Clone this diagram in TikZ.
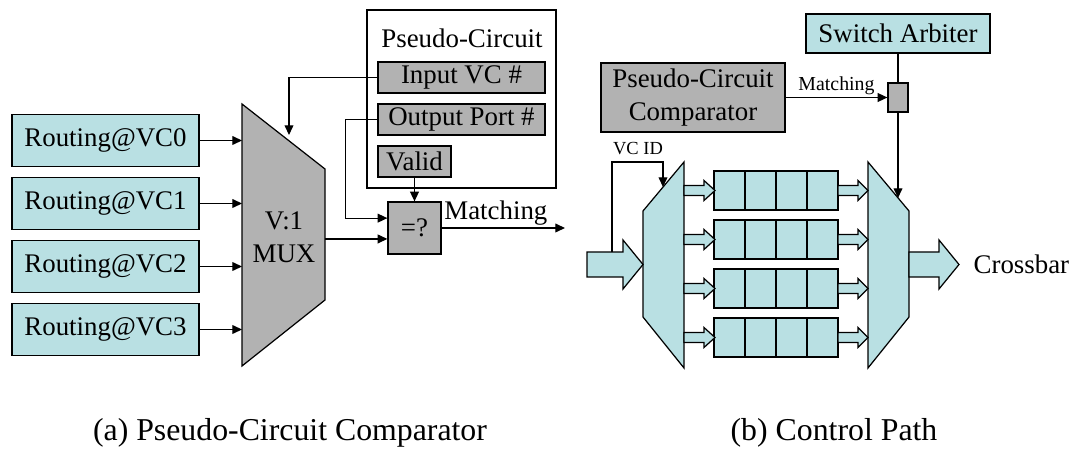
\documentclass[tikz,border=0pt]{standalone}
\usepackage{fontspec}
\setmainfont{Liberation Serif}
\usepackage{tikz}
\usetikzlibrary{arrows.meta,%
                shapes,positioning}

\definecolor{vcblue}{RGB}{185,224,227}
\definecolor{pcgray}{RGB}{178,178,178}

% fat arrow: from x, tip x, head start x, mid y, shaft half, head half
\newcommand{\fatarrow}[6]{%
  \draw[fill=vcblue] (#1,#4-#5) -- (#3,#4-#5) -- (#3,#4-#6) -- (#2,#4)
    -- (#3,#4+#6) -- (#3,#4+#5) -- (#1,#4+#5) -- cycle;}

\begin{document}
\begin{tikzpicture}[x=0.02cm,y=-0.02cm,line width=0.7pt,
  >={Triangle[length=5.5pt,width=5pt]},
  font=\fontsize{15.3}{18.7}\selectfont,
  blk/.style 2 args={draw,inner sep=0pt,minimum width=#1*0.02cm,minimum height=#2*0.02cm},
  cy/.style={fill=vcblue},
  gy/.style={fill=pcgray}]
\useasboundingbox (0,0) rectangle (1073,449);

%%% (a) comparator
\foreach \i in {0,...,3}
  \node[blk={187}{52},cy] (r\i) at (105.5,140.5+63*\i) {Routing@VC\i};

\draw[fill=pcgray] (242,104) coordinate (mtl) -- (325,169) coordinate (mtr)
  -- (325,300) -- (242,366) -- cycle;
\node[align=center] (mux) at (284,237) {V:1\\MUX};

\foreach \i in {0,...,3}
  \draw[->] (r\i.east) -- (r\i.east -| mtl);

\node[blk={189}{178},fill=white] (pcbox) at (461.5,99) {};
\node (pctitle) at (462,38) {Pseudo-Circuit};
\node[blk={167}{31},gy] (invc) at (461.5,77.5) {Input VC \#};
\node[blk={167}{31},gy] (outp) at (461.5,119.5) {Output Port \#};
\node[blk={73}{31},gy] (valid) at (414.5,161.5) {Valid};
\node[blk={53}{52},gy] (cmp) at (414.5,228) {=?};

\coordinate (vcsel) at (289,135);
\draw[->] (invc.west) -| (vcsel);
\draw[->] (outp.west) -- ++(-32,0) |- (cmp.160);
\draw[->] (cmp.202 -| mtr) -- (cmp.202);
\draw[->] (valid) -- (cmp);
\coordinate (matchout) at (565,228);
\draw[->] (cmp.east) -- (matchout) node[pos=0.44,above,inner sep=1pt] {Matching};

%%% (b) control path
\node[blk={184}{39},cy] (arb) at (898,33.5) {Switch Arbiter};
\node[blk={184}{69},gy,align=center] (pcc) at (693,97.5) {Pseudo-Circuit\\Comparator};
\node[blk={20}{29},gy] (gate) at (898,97.5) {};
\draw (arb) -- (gate);
\draw[->] (pcc) -- (gate) node[midway,above,inner sep=1pt,font=\fontsize{11.3}{13}\selectfont] {Matching};

\draw[fill=vcblue] (643,211) -- (684,162) -- (684,368) -- (643,317) -- cycle;
\draw[fill=vcblue] (868,162) -- (909,211) -- (909,317) -- (868,368) -- cycle;

\foreach \i in {0,...,3}{
  \node[blk={124}{39},cy] (buf\i) at (776,190.5+49*\i) {};
  \foreach \x in {745,776,807}
    \draw (\x,171+49*\i) -- (\x,210+49*\i);
  \fatarrow{684}{715}{704}{190.5+49*\i}{5}{10}
  \fatarrow{838}{868}{858}{190.5+49*\i}{5}{10}
}

\fatarrow{587}{643}{623}{264.5}{12.5}{24.5}
\fatarrow{909}{959}{939}{264.5}{12.5}{24.5}

\coordinate (vcsrc) at (612,252);
\coordinate (vcdst) at (663,187);
\draw[->] (vcsrc) |- (663,162) -- (vcdst);
\node[font=\fontsize{10.5}{12}\selectfont] (vcid) at (638,149) {VC ID};

\coordinate (armux) at (898,198);
\draw[->] (gate) -- (armux);

\node[anchor=west,inner sep=0pt] (xbar) at (973,264) {Crossbar};

%%% captions
\node[font=\fontsize{18.1}{21}\selectfont] (capa) at (290,432.5) {(a) Pseudo-Circuit Comparator};
\node[font=\fontsize{18.1}{21}\selectfont] (capb) at (834,432.5) {(b) Control Path};
\end{tikzpicture}
\end{document}
